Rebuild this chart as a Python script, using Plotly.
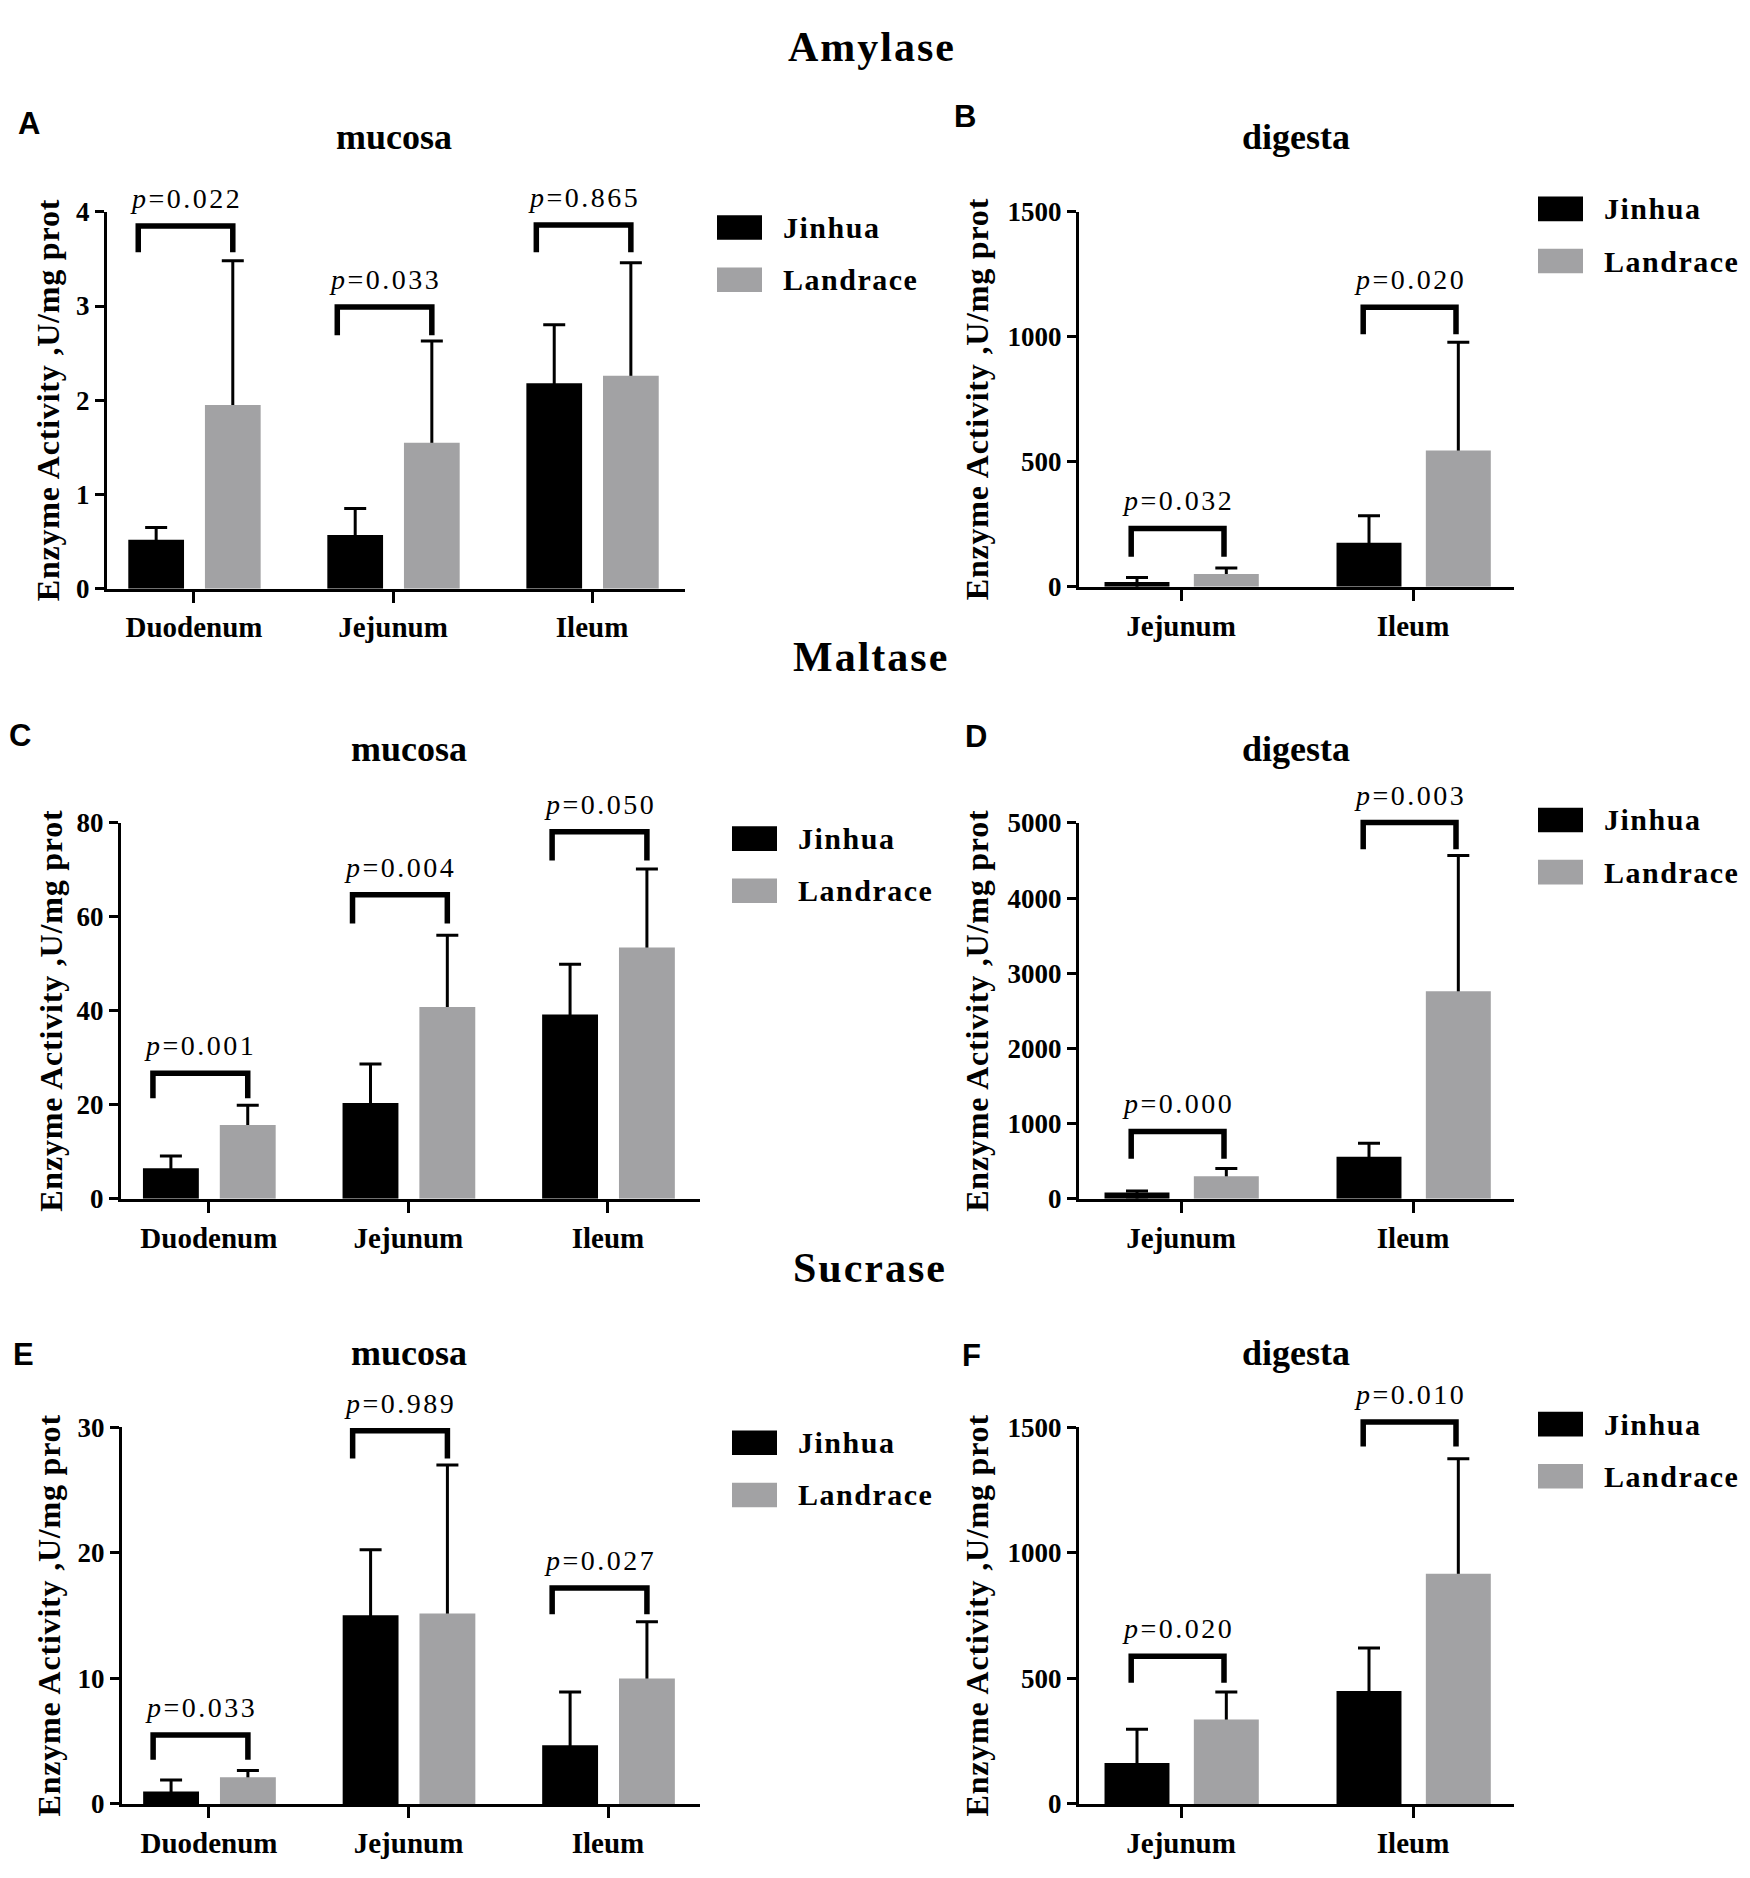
import plotly.graph_objects as go

W, H = 1750, 1878

# ---- data (mean and upper SD) ----
enzymes = ["Amylase", "Maltase", "Sucrase"]
muc_cats = ["Duodenum", "Jejunum", "Ileum"]
dig_cats = ["Jejunum", "Ileum"]

# A  amylase mucosa
amy_muc_jinhua = [0.52, 0.57, 2.18]
amy_muc_jinhua_sd = [0.13, 0.28, 0.62]
amy_muc_landrace = [1.95, 1.55, 2.26]
amy_muc_landrace_sd = [1.53, 1.08, 1.20]
amy_muc_p = ["0.022", "0.033", "0.865"]
amy_muc_bracket = [3.85, 2.99, 3.86]
amy_muc_leg = [3.57, 2.69, 3.57]

# B  amylase digesta
amy_dig_jinhua = [19, 176]
amy_dig_jinhua_sd = [18, 108]
amy_dig_landrace = [51, 545]
amy_dig_landrace_sd = [24, 433]
amy_dig_p = ["0.032", "0.020"]
amy_dig_bracket = [233, 1118]
amy_dig_leg = [120, 1010]

# C  maltase mucosa
mal_muc_jinhua = [6.5, 20.4, 39.2]
mal_muc_jinhua_sd = [2.6, 8.3, 10.7]
mal_muc_landrace = [15.7, 40.8, 53.5]
mal_muc_landrace_sd = [4.2, 15.3, 16.7]
mal_muc_p = ["0.001", "0.004", "0.050"]
mal_muc_bracket = [26.7, 64.7, 78.1]
mal_muc_leg = [21.4, 58.6, 72.0]

# D  maltase digesta
mal_dig_jinhua = [83, 559]
mal_dig_jinhua_sd = [21, 181]
mal_dig_landrace = [300, 2759]
mal_dig_landrace_sd = [104, 1806]
mal_dig_p = ["0.000", "0.003"]
mal_dig_bracket = [895, 5005]
mal_dig_leg = [533, 4648]

# E  sucrase mucosa
suc_muc_jinhua = [1.0, 15.03, 4.68]
suc_muc_jinhua_sd = [0.9, 5.21, 4.23]
suc_muc_landrace = [2.13, 15.16, 9.98]
suc_muc_landrace_sd = [0.54, 11.82, 4.52]
suc_muc_p = ["0.033", "0.989", "0.027"]
suc_muc_bracket = [5.49, 29.7, 17.2]
suc_muc_leg = [3.51, 27.5, 15.1]

# F  sucrase digesta
suc_dig_jinhua = [163, 450]
suc_dig_jinhua_sd = [134, 171]
suc_dig_landrace = [336, 916]
suc_dig_landrace_sd = [110, 458]
suc_dig_p = ["0.020", "0.010"]
suc_dig_bracket = [588, 1520]
suc_dig_leg = [482, 1423]

JIN = "#000000"
LAN = "#a2a2a4"
SERIF = "Liberation Serif"

panels = [
    dict(letter="A", tissue="mucosa", cats=muc_cats, j=amy_muc_jinhua, jsd=amy_muc_jinhua_sd,
         l=amy_muc_landrace, lsd=amy_muc_landrace_sd, p=amy_muc_p, bt=amy_muc_bracket, bl=amy_muc_leg,
         ymax=4, dtick=1, px=(107, 685), py=(200, 583), xr=[-0.437, 2.467], br=(-0.28, 0.195),
         letter_xy=(29, 110), title_xy=(394, 124), ytitle_x=48),
    dict(letter="B", tissue="digesta", cats=dig_cats, j=amy_dig_jinhua, jsd=amy_dig_jinhua_sd,
         l=amy_dig_landrace, lsd=amy_dig_landrace_sd, p=amy_dig_p, bt=amy_dig_bracket, bl=amy_dig_leg,
         ymax=1500, dtick=500, px=(1079, 1514), py=(200, 581), xr=[-0.44, 1.435], br=(-0.215, 0.185),
         letter_xy=(965, 103), title_xy=(1296, 124), ytitle_x=977),
    dict(letter="C", tissue="mucosa", cats=muc_cats, j=mal_muc_jinhua, jsd=mal_muc_jinhua_sd,
         l=mal_muc_landrace, lsd=mal_muc_landrace_sd, p=mal_muc_p, bt=mal_muc_bracket, bl=mal_muc_leg,
         ymax=80, dtick=20, px=(121, 700), py=(821, 1203), xr=[-0.44, 2.461], br=(-0.28, 0.195),
         letter_xy=(20, 732), title_xy=(409, 746), ytitle_x=51),
    dict(letter="D", tissue="digesta", cats=dig_cats, j=mal_dig_jinhua, jsd=mal_dig_jinhua_sd,
         l=mal_dig_landrace, lsd=mal_dig_landrace_sd, p=mal_dig_p, bt=mal_dig_bracket, bl=mal_dig_leg,
         ymax=5000, dtick=1000, px=(1079, 1514), py=(821, 1203), xr=[-0.44, 1.435], br=(-0.215, 0.185),
         letter_xy=(976, 733), title_xy=(1296, 746), ytitle_x=977),
    dict(letter="E", tissue="mucosa", cats=muc_cats, j=suc_muc_jinhua, jsd=suc_muc_jinhua_sd,
         l=suc_muc_landrace, lsd=suc_muc_landrace_sd, p=suc_muc_p, bt=suc_muc_bracket, bl=suc_muc_leg,
         ymax=30, dtick=10, px=(122, 700), py=(1435, 1818), xr=[-0.436, 2.461], br=(-0.28, 0.195),
         letter_xy=(23, 1361), title_xy=(409, 1360), ytitle_x=49),
    dict(letter="F", tissue="digesta", cats=dig_cats, j=suc_dig_jinhua, jsd=suc_dig_jinhua_sd,
         l=suc_dig_landrace, lsd=suc_dig_landrace_sd, p=suc_dig_p, bt=suc_dig_bracket, bl=suc_dig_leg,
         ymax=1500, dtick=500, px=(1079, 1514), py=(1435, 1818), xr=[-0.44, 1.435], br=(-0.215, 0.185),
         letter_xy=(972, 1362), title_xy=(1296, 1360), ytitle_x=977),
]

title_pos = [(872, 33), (871, 652), (870, 1273)]


def fx(v):
    return v / W


def fy(v):
    return 1 - v / H


def spaced(text, px):
    return f"<span style='letter-spacing:{px}px'>{text}</span>"


fig = go.Figure()
shapes = []
annotations = []

for i, pn in enumerate(panels, start=1):
    xa = "x" if i == 1 else f"x{i}"
    ya = "y" if i == 1 else f"y{i}"
    n = len(pn["cats"])
    series = [(pn["j"], pn["jsd"], JIN, -0.33), (pn["l"], pn["lsd"], LAN, 0.055)]
    # error bars first (invisible bars), real bars drawn over them so the lower cap is hidden
    for vals, sd, col, off in series:
        fig.add_trace(go.Bar(
            x=pn["cats"], y=vals, xaxis=xa, yaxis=ya,
            width=0.28, offset=off,
            marker=dict(color="rgba(0,0,0,0)", line=dict(width=0)),
            error_y=dict(type="data", array=sd, arrayminus=[pn["ymax"] * 0.02] * n,
                         symmetric=False, color="black", thickness=3, width=11),
            showlegend=False, hoverinfo="skip",
        ))
    for vals, sd, col, off in series:
        fig.add_trace(go.Bar(
            x=pn["cats"], y=vals, xaxis=xa, yaxis=ya,
            width=0.28, offset=off,
            marker=dict(color=col, line=dict(width=0)),
            showlegend=False, hoverinfo="skip",
        ))

    fig.layout[f"xaxis{'' if i == 1 else i}"] = dict(
        domain=[fx(pn["px"][0]), fx(pn["px"][1])], anchor=ya, type="category",
        range=pn["xr"], showline=True, linewidth=3, linecolor="black",
        ticks="outside", ticklen=11, tickwidth=3, tickcolor="black",
        tickfont=dict(family=SERIF, size=29, color="black", weight="bold"),
        showgrid=False, zeroline=False, fixedrange=True,
    )
    fig.layout[f"yaxis{'' if i == 1 else i}"] = dict(
        domain=[fy(pn["py"][1]), fy(pn["py"][0])], anchor=xa,
        range=[0, pn["ymax"]], tick0=0, dtick=pn["dtick"],
        showline=True, linewidth=3, linecolor="black",
        ticks="outside", ticklen=9, tickwidth=3, tickcolor="black",
        tickfont=dict(family=SERIF, size=27, color="black", weight="bold"),
        showgrid=False, zeroline=False, fixedrange=True,
    )

    # significance brackets and p values
    for k in range(n):
        x0 = k + pn["br"][0]
        x1 = k + pn["br"][1]
        yt = pn["bt"][k] / pn["ymax"]
        yl = pn["bl"][k] / pn["ymax"]
        shapes.append(dict(
            type="path", xref=xa, yref=f"{ya} domain",
            path=f"M {x0},{yl} L {x0},{yt} L {x1},{yt} L {x1},{yl}",
            line=dict(color="black", width=5.5),
        ))
        annotations.append(dict(
            x=(x0 + x1) / 2, y=yt, xref=xa, yref=f"{ya} domain",
            text=spaced(f"<i>p</i>=" + pn["p"][k], 2.5), showarrow=False,
            xanchor="center", yanchor="bottom", yshift=10,
            font=dict(family=SERIF, size=28, color="black"),
        ))

    # panel letter, subtitle, y title
    lx, ly = pn["letter_xy"]
    annotations.append(dict(x=fx(lx), y=fy(ly), xref="paper", yref="paper", text=f"<b>{pn['letter']}</b>",
                            showarrow=False, xanchor="center", yanchor="middle",
                            font=dict(family="Liberation Sans", size=31, color="black")))
    tx, ty = pn["title_xy"]
    annotations.append(dict(x=fx(tx), y=fy(ty), xref="paper", yref="paper", text=f"<b>{pn['tissue']}</b>",
                            showarrow=False, xanchor="center", yanchor="middle",
                            font=dict(family=SERIF, size=36, color="black")))
    annotations.append(dict(x=fx(pn["ytitle_x"]), y=0.5, xref="paper", yref=f"{ya} domain",
                            text=spaced("<b>Enzyme Activity ,U/mg prot</b>", 0.8), textangle=-90,
                            showarrow=False, xanchor="center", yanchor="middle",
                            font=dict(family=SERIF, size=32, color="black")))

    # legend drawn beside each panel
    mucosa = pn["tissue"] == "mucosa"
    bx = pn["px"][1] + (32 if mucosa else 24)
    cy0 = pn["py"][0] + (16 if mucosa else -3)
    for r, (name, col) in enumerate([("Jinhua", JIN), ("Landrace", LAN)]):
        cy = cy0 + r * 53
        shapes.append(dict(type="rect", xref="paper", yref="paper",
                           x0=fx(bx), x1=fx(bx + 45), y0=fy(cy + 12.5), y1=fy(cy - 12.5),
                           fillcolor=col, line=dict(width=0)))
        annotations.append(dict(x=fx(bx + 64), y=fy(cy), xref="paper", yref="paper",
                                text=spaced(f"<b>{name}</b>", 1.5), showarrow=False,
                                xanchor="left", yanchor="middle",
                                font=dict(family=SERIF, size=30, color="black")))

for name, (tx, ty) in zip(enzymes, title_pos):
    annotations.append(dict(x=fx(tx), y=fy(ty), xref="paper", yref="paper",
                            text=spaced(f"<b>{name}</b>", 2), showarrow=False,
                            xanchor="center", yanchor="middle",
                            font=dict(family=SERIF, size=42, color="black")))

fig.update_layout(
    width=W, height=H, margin=dict(l=0, r=0, t=0, b=0),
    paper_bgcolor="white", plot_bgcolor="white",
    barmode="overlay", showlegend=False,
    shapes=shapes, annotations=annotations,
)

fig.write_html("out.html", config={"displayModeBar": False},
               post_script="document.body.style.margin='0';")
